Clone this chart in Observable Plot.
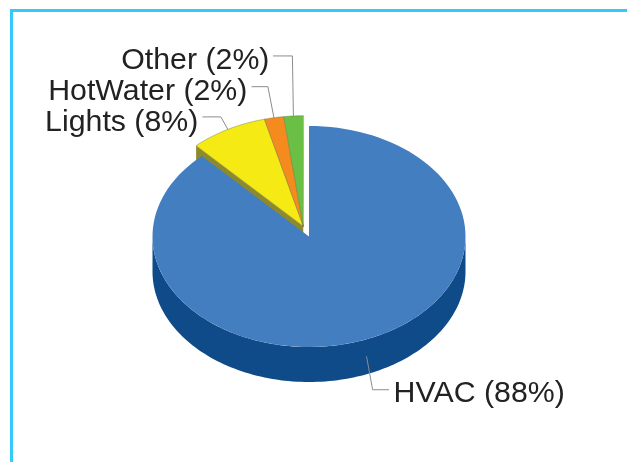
<!DOCTYPE html>
<html>
<head>
<meta charset="utf-8">
<script src="https://cdn.jsdelivr.net/npm/d3@7"></script>
<script src="https://cdn.jsdelivr.net/npm/@observablehq/plot@0.6"></script>
<style>
  html, body { margin: 0; padding: 0; background: #fff; overflow: hidden; }
  #wrap { position: relative; width: 627px; height: 462px; overflow: hidden; }
  #frame { position: absolute; left: 10px; top: 9px; right: -10px; bottom: -10px;
           border-top: 3px solid #35c8fb; border-left: 3px solid #35c8fb; }
  #chart { position: absolute; left: 0; top: 0; }
  #chart svg { display: block; background: transparent; filter: blur(0.55px); }
</style>
</head>
<body>
<div id="wrap"><div id="frame"></div><div id="chart"></div></div>
<script>
// Data
const categories = ["HVAC", "Lights", "HotWater", "Other"];
const shares = [88, 8, 2, 2];
const exploded = ["Lights", "HotWater", "Other"];
const topColors = ["#437ec0", "#f6ea14", "#f58a1e", "#6abf45"];
const sideColors = ["#0f4a89", "#8e8a2c", "#8e5a1c", "#3f7a2c"];

// Layout
const W = 627, H = 462;
const cx = 308.5, cy = 236, rx = 156.5, ry = 110.5;   // pixels per pie unit
const depth = 35 / ry, explode = 0.1;
// leader elbows & ends and text anchors, in pixels relative to each slice's rim anchor
const labelLayout = {
  Other:    {elbow: [-1, -60],  end: [-20, -60],  text: [-24, -46.5],  anchor: "end"},
  HotWater: {elbow: [-6, -31],  end: [-22, -31],  text: [-26.5, -17.5], anchor: "end"},
  Lights:   {elbow: [-7, -12.5], end: [-25, -12.5], text: [-29.5, 1.5], anchor: "end"},
  HVAC:     {elbow: [6, 33],    end: [22, 33],    text: [27, 45.5],  anchor: "start"}
};

const slices = d3.pie().sort(null).value(d => d)(shares).map((a, i) => ({
  name: categories[i], start: a.startAngle, end: a.endAngle, mid: (a.startAngle + a.endAngle) / 2,
  share: shares[i], i
}));
const expl = slices.filter(s => exploded.includes(s.name));
const groupMid = (d3.min(expl, s => s.start) + d3.max(expl, s => s.end)) / 2;
const off = [Math.sin(groupMid) * explode, Math.cos(groupMid) * explode];
const origin = s => exploded.includes(s.name) ? off : [0, 0];
const rim = (s, a) => { const o = origin(s); return [o[0] + Math.sin(a), o[1] + Math.cos(a)]; };
const arcPts = (s, a0, a1) => d3.range(0, 121).map(k => rim(s, a0 + (a1 - a0) * k / 120));
const face = (key, pts) => pts.map(p => ({key, x: p[0], y: p[1]}));

const hvac = slices[0];
const blueTop = face("HVAC top", [origin(hvac), ...arcPts(hvac, hvac.start, hvac.end)]);
const lowA = Math.PI / 2, highA = 3 * Math.PI / 2;
const blueArc = arcPts(hvac, lowA, highA);
const blueSide = face("HVAC side", [...blueArc, ...blueArc.slice().reverse().map(p => [p[0], p[1] - depth])]);

const wedgeTops = expl.map(s => face(s.name + " top", [origin(s), ...arcPts(s, s.start, s.end)]));
const yel = slices[1], yelTip = rim(yel, yel.start), yelO = origin(yel);
const wedgeCut = face("Lights side", [yelO, yelTip, [yelTip[0], yelTip[1] - depth], [yelO[0], yelO[1] - depth]]);

const colorDomain = [...categories.map(c => c + " top"), ...categories.map(c => c + " side")];
const colorRange = [...topColors, ...sideColors];

// Label anchors: mid-angle of each slice on its rim
const px = v => v / rx, py = v => -v / ry;
const labels = slices.map(s => {
  const a = rim(s, s.mid);
  if (s.name === "HVAC") a[1] -= depth / 2;
  const L = labelLayout[s.name];
  return {
    name: s.name, anchorPt: a, L,
    text: `${s.name} (${s.share}%)`,
    tx: a[0] + px(L.text[0]), ty: a[1] + py(L.text[1])
  };
});
const leaders = labels.flatMap(l => [
  {key: l.name, x: l.anchorPt[0], y: l.anchorPt[1]},
  {key: l.name, x: l.anchorPt[0] + px(l.L.elbow[0]), y: l.anchorPt[1] + py(l.L.elbow[1])},
  {key: l.name, x: l.anchorPt[0] + px(l.L.end[0]), y: l.anchorPt[1] + py(l.L.end[1])}
]);

const polyMark = (data, extra = {}) => Plot.line(data, {
  x: "x", y: "y", z: "key", fill: "key", stroke: null, curve: "linear-closed", ...extra
});

const chart = Plot.plot({
  width: W, height: H, margin: 0,
  style: {background: "transparent"},
  x: {domain: [-cx / rx, (W - cx) / rx], range: [0, W], axis: null},
  y: {domain: [cy / ry, (cy - H) / ry], range: [0, H], axis: null},
  color: {domain: colorDomain, range: colorRange},
  marks: [
    polyMark(wedgeCut),
    ...wedgeTops.map(d => polyMark(d, {stroke: "#6f7a3a", strokeWidth: 0.6, strokeOpacity: 0.8})),
    polyMark(blueSide),
    polyMark(blueTop),
    Plot.line(leaders, {x: "x", y: "y", z: "key", stroke: "#8c8c8c", strokeWidth: 1}),
    ...labels.map(l => Plot.text([l], {
      x: "tx", y: "ty", text: "text", textAnchor: l.L.anchor, lineAnchor: "bottom",
      fontSize: 30.3, fontFamily: "Liberation Sans, Arial, sans-serif", fill: "#222"
    }))
  ]
});
document.getElementById("chart").appendChild(chart);
</script>
</body>
</html>
